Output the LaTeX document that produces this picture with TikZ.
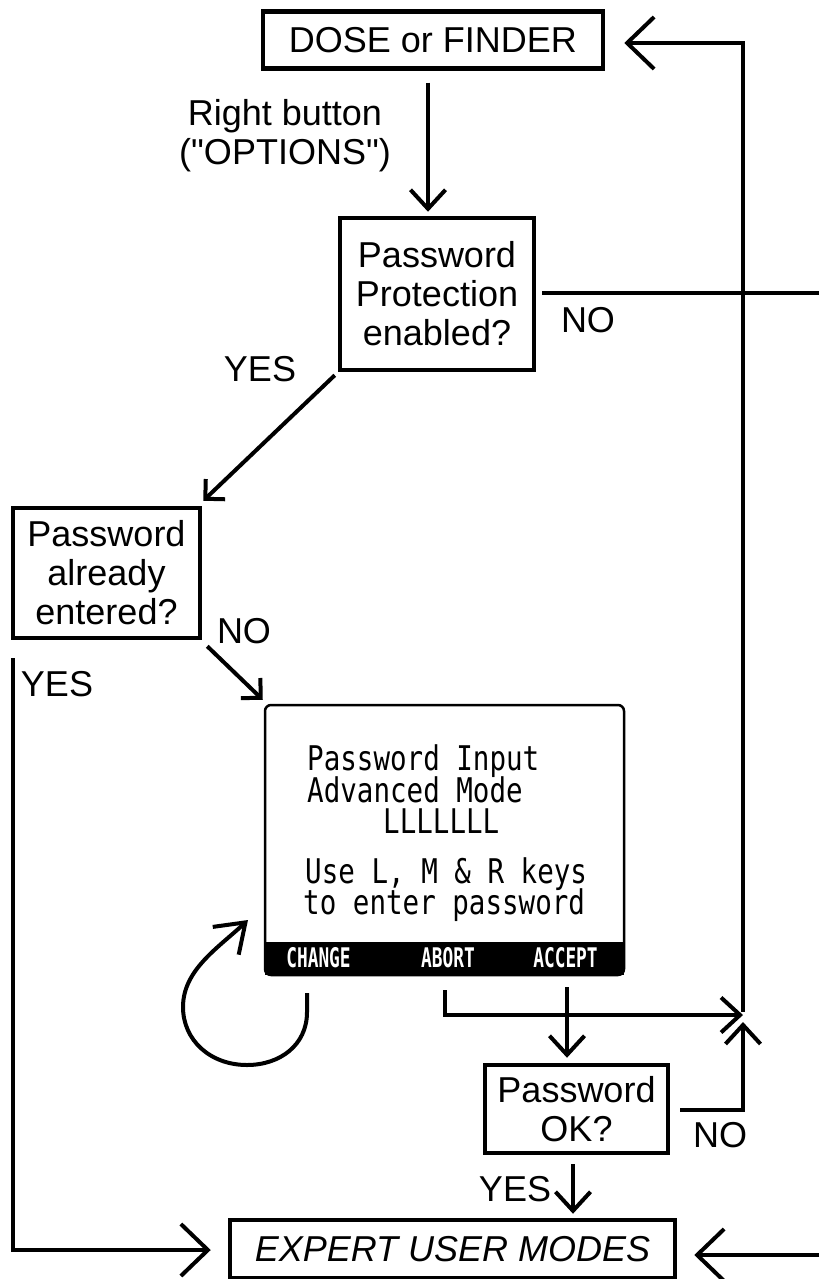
\documentclass[tikz,border=0pt]{standalone}
\usepackage{fontspec}
\usepackage{graphicx}
\setmainfont{Liberation Sans}[Ligatures=TeXOff]
\newfontfamily\lcdfont{DejaVu Sans Mono}
\usetikzlibrary{arrows.meta,calc}
\newcommand\labfont{\fontsize{36}{39}\selectfont}
\newcommand\lcdtext{\lcdfont\fontsize{34}{34}\selectfont}
\newcommand\bartext{\lcdfont\bfseries\fontsize{27}{27}\selectfont}
\begin{document}
\begin{tikzpicture}[x=1pt,y=-1pt,
  lw/.style={line width=4pt},
  box/.style={draw, line width=4.5pt, inner sep=0pt, align=center, font=\labfont},
  lbl/.style={inner sep=0pt, align=center, font=\labfont},
  bigv/.style={-{Straight Barb[length=27pt,width=52pt]}},
  midv/.style={-{Straight Barb[length=19pt,width=35pt]}},
  diagv/.style={-{Straight Barb[length=14pt,width=28pt]}},
  loopv/.style={-{Straight Barb[length=27pt,width=38pt]}},
  lcdline/.style={anchor=base west, inner sep=0pt, font=\lcdtext},
  barlbl/.style={inner sep=0pt, text=white, font=\bartext}]
\useasboundingbox (0,0) rectangle (819,1279);

% boxes
\node[box, minimum width=340, minimum height=57] (dose) at (433,40) {DOSE or FINDER};
\node[box, minimum width=194, minimum height=152] (pp) at (437,294) {Password\\Protection\\enabled?};
\node[box, minimum width=187, minimum height=130] (pwa) at (106.5,573) {Password\\already\\entered?};
\node[box, minimum width=183, minimum height=88] (pok) at (576.5,1109) {Password\\OK?};
\node[box, minimum width=445, minimum height=58, font=\labfont\itshape] (expert) at (452.5,1249) {EXPERT USER MODES};

% LCD screen
\node[draw, line width=2.5pt, rounded corners=6pt, minimum width=359, minimum height=270, inner sep=0pt] (lcd) at (444.5,840) {};
\node[fill=black, minimum width=359, minimum height=33, inner sep=0pt] (bar) at (444.5,958.5) {};
\node[lcdline] (l1) at (307,770) {\scalebox{0.81}[1]{Password Input}};
\node[lcdline] (l2) at (307,802) {\scalebox{0.81}[1]{Advanced Mode}};
\node[lcdline] (l3) at (383,833) {\scalebox{0.81}[1]{LLLLLLL}};
\node[lcdline] (l4) at (305,883) {\scalebox{0.81}[1]{Use L, M \& R keys}};
\node[lcdline] (l5) at (303,914) {\scalebox{0.81}[1]{to enter password}};
\node[barlbl] (bchange) at (318.5,958) {\scalebox{0.66}[1]{CHANGE}};
\node[barlbl] (babort) at (448,958) {\scalebox{0.66}[1]{ABORT}};
\node[barlbl] (baccept) at (565.5,958) {\scalebox{0.66}[1]{ACCEPT}};

% labels
\node[lbl] (rb) at (285,136) {Right button\\("OPTIONS")};
\node[lbl] (ppno) at (588,320) {NO};
\node[lbl] (ppyes) at (260,369) {YES};
\node[lbl] (pwano) at (244,631) {NO};
\node[lbl] (pwayes) at (57,684) {YES};
\node[lbl] (pokyes) at (515,1189) {YES};
\node[lbl] (pokno) at (720,1135) {NO};

% free ends
\coordinate (rout) at (819,293);
\coordinate (rin) at (819,1255);
\coordinate (j) at (743,1015);
\coordinate (looptip) at (248,920);

% connectors
\draw[lw, midv] ($(dose.south)+(-5,12)$) -- ($(pp.north)+(-9,-4)$);
\draw[lw] ($(pp.east)+(6,-1)$) -- (rout);
\draw[lw, diagv] ($(pp.south west)+(-3,3)$) -- ($(pwa.north east)+(1,-5)$);
\draw[lw, diagv] ($(pwa.south east)+(5,6)$) -- ($(lcd.north west)+(-1,-4)$);
\draw[lw, bigv] ($(pwa.south west)+(2,18)$) |- ($(expert.west)+(-17,1)$);
\draw[lw, bigv] (rin) -- ($(expert.east)+(17,6)$);
\draw[lw, midv] ($(bar.south)+(122.5,12)$) -- ($(pok.north)+(-9.5,-5)$);
\draw[lw, midv] ($(bar.south)+(0.5,15)$) |- (j);
\draw[lw, midv] ($(pok.east)+(10,1)$) -| ($(j)+(0,7)$);
\draw[lw, bigv] ($(j)+(0,-3)$) |- ($(dose.east)+(19,3)$);
\draw[lw, midv] ($(pok.south)+(-3.5,9)$) -- ($(expert.north)+(120.5,-4)$);
\draw[lw, loopv] ($(bar.south)+(-137.5,18)$) -- ++(0,19)
  .. controls (307,1045) and (280,1065) .. (247,1065)
  .. controls (210,1065) and (183,1040) .. (183,1007)
  .. controls (183,970) and (218,948) .. (looptip);
\end{tikzpicture}
\end{document}
